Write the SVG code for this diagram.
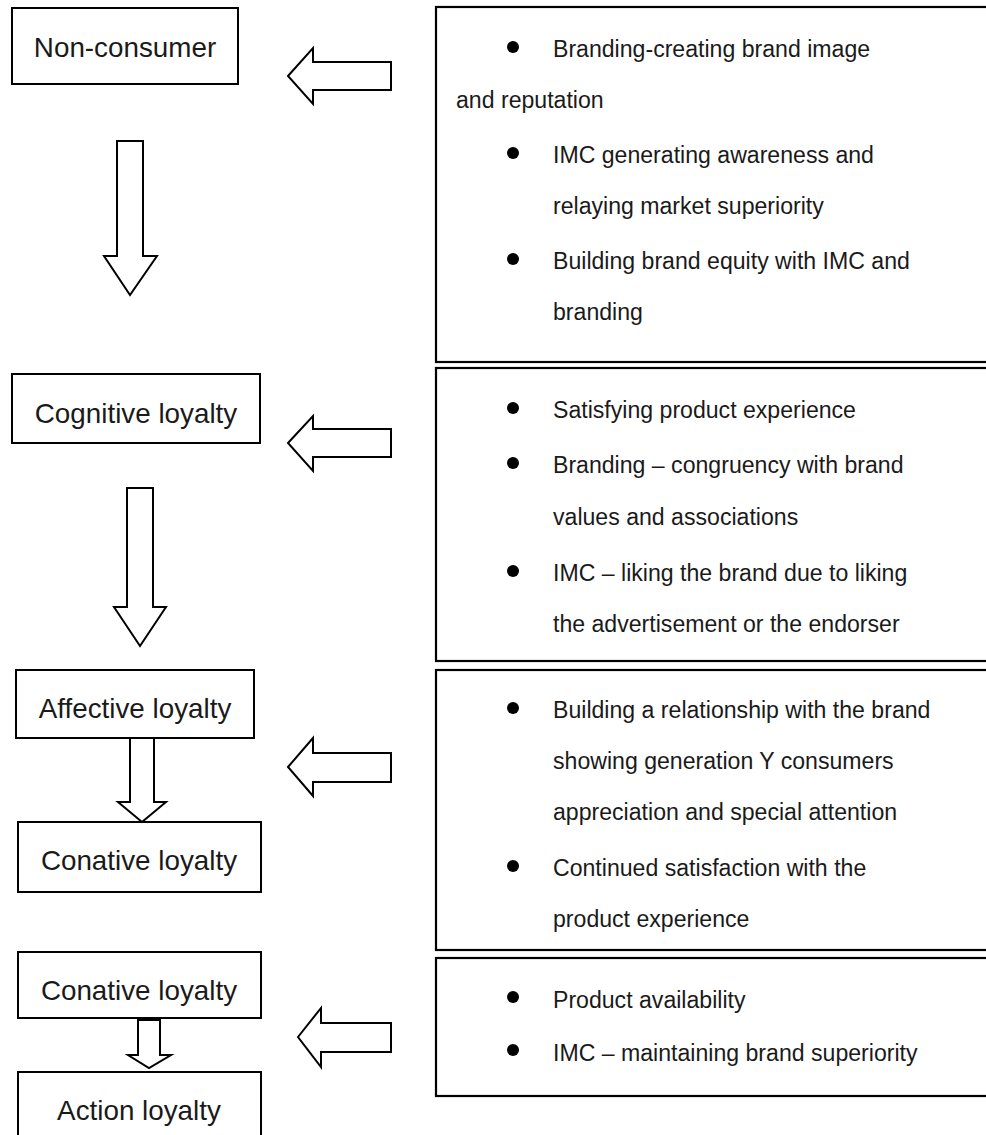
<svg xmlns="http://www.w3.org/2000/svg" width="986" height="1135" viewBox="0 0 986 1135">
<style>
.box{fill:#fff;stroke:#000;stroke-width:2}
.pbox{fill:#fff;stroke:#000;stroke-width:2.2}
.arr{fill:#fff;stroke:#000;stroke-width:2;stroke-linejoin:miter}
.lbl{font-family:"Liberation Sans",Arial,sans-serif;font-size:27.8px;fill:#1a1a1a;text-anchor:middle}
.txt{font-family:"Liberation Sans",Arial,sans-serif;font-size:23.1px;fill:#1a1a1a}
.dot{fill:#000}
</style>
<rect width="986" height="1135" fill="#fff"/>

<g id="node-nonconsumer">
<rect class="box" x="12" y="8" width="226" height="76"/>
<text class="lbl" x="125" y="57">Non-consumer</text>
</g>
<g id="node-cognitive">
<rect class="box" x="12" y="374" width="248" height="69"/>
<text class="lbl" x="136" y="423">Cognitive loyalty</text>
</g>
<g id="node-affective">
<rect class="box" x="16" y="670" width="238" height="68"/>
<text class="lbl" x="135" y="718">Affective loyalty</text>
</g>
<g id="node-conative1">
<rect class="box" x="18" y="822" width="243" height="70"/>
<text class="lbl" x="139" y="870">Conative loyalty</text>
</g>
<g id="node-conative2">
<rect class="box" x="18" y="952" width="243" height="66"/>
<text class="lbl" x="139" y="1000">Conative loyalty</text>
</g>
<g id="node-action">
<rect class="box" x="18" y="1072" width="243" height="80"/>
<text class="lbl" x="139" y="1120">Action loyalty</text>
</g>

<g id="panel-1">
<rect class="pbox" x="436" y="7" width="560" height="355"/>
<circle class="dot" cx="513" cy="47" r="6"/>
<text class="txt" x="553" y="57">Branding-creating brand image</text>
<text class="txt" x="456" y="108">and reputation</text>
<circle class="dot" cx="513" cy="153" r="6"/>
<text class="txt" x="553" y="163">IMC generating awareness and</text>
<text class="txt" x="553" y="214">relaying market superiority</text>
<circle class="dot" cx="513" cy="259" r="6"/>
<text class="txt" x="553" y="269">Building brand equity with IMC and</text>
<text class="txt" x="553" y="320">branding</text>
</g>

<g id="panel-2">
<rect class="pbox" x="436" y="368" width="560" height="293"/>
<circle class="dot" cx="513" cy="408" r="6"/>
<text class="txt" x="553" y="418">Satisfying product experience</text>
<circle class="dot" cx="513" cy="463" r="6"/>
<text class="txt" x="553" y="473">Branding – congruency with brand</text>
<text class="txt" x="553" y="525">values and associations</text>
<circle class="dot" cx="513" cy="571" r="6"/>
<text class="txt" x="553" y="581">IMC – liking the brand due to liking</text>
<text class="txt" x="553" y="632">the advertisement or the endorser</text>
</g>

<g id="panel-3">
<rect class="pbox" x="436" y="670" width="560" height="280"/>
<circle class="dot" cx="513" cy="708" r="6"/>
<text class="txt" x="553" y="718">Building a relationship with the brand</text>
<text class="txt" x="553" y="769">showing generation Y consumers</text>
<text class="txt" x="553" y="820">appreciation and special attention</text>
<circle class="dot" cx="513" cy="866" r="6"/>
<text class="txt" x="553" y="876">Continued satisfaction with the</text>
<text class="txt" x="553" y="927">product experience</text>
</g>

<g id="panel-4">
<rect class="pbox" x="436" y="958" width="560" height="138"/>
<circle class="dot" cx="513" cy="997" r="6"/>
<text class="txt" x="553" y="1008">Product availability</text>
<circle class="dot" cx="513" cy="1050" r="6"/>
<text class="txt" x="553" y="1061">IMC – maintaining brand superiority</text>
</g>

<g id="connectors">
<polygon class="arr" points="117,141 143,141 143,256 157,256 130,295 104,256 117,256"/>
<polygon class="arr" points="127,488 153,488 153,607 166,607 140,646 114,607 127,607"/>
<polygon class="arr" points="130,738 154,738 154,802 166,802 142,822 118,802 130,802"/>
<polygon class="arr" points="138,1020 160,1020 160,1055 171,1055 149,1068 128,1055 138,1055"/>
<polygon class="arr" points="288,76 313,48 313,62 391,62 391,90 313,90 313,104"/>
<polygon class="arr" points="288,443 313,416 313,429 391,429 391,457 313,457 313,471"/>
<polygon class="arr" points="288,767 313,738 313,753 391,753 391,782 313,782 313,796"/>
<polygon class="arr" points="298,1037 321,1008 321,1023 391,1023 391,1052 321,1052 321,1067"/>
</g>
</svg>
